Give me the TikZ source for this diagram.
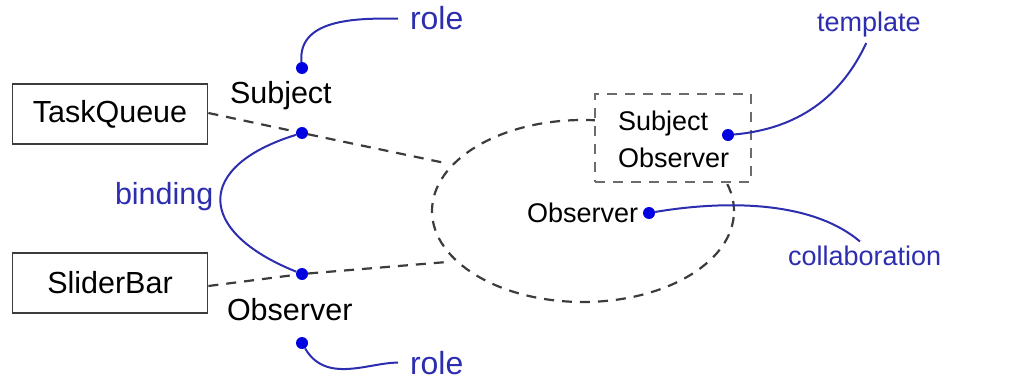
\documentclass[tikz,border=0pt]{standalone}
\usepackage{fontspec}
\setmainfont{Liberation Sans}
\usetikzlibrary{shapes.geometric}
\definecolor{lblue}{RGB}{45,45,175}
\definecolor{dblue}{RGB}{0,0,225}
\definecolor{dgray}{RGB}{60,60,60}
\begin{document}
\begin{tikzpicture}[x=1pt,y=1pt,
  txt/.style={font=\fontsize{27}{32}\selectfont, inner sep=0pt, outer sep=0pt, anchor=base west, text=black},
  bigtxt/.style={txt, font=\fontsize{30.5}{36}\selectfont},
  btxt/.style={txt, text=lblue},
  bigbtxt/.style={bigtxt, text=lblue},
  classbox/.style={draw=dgray, line width=1.8pt, minimum width=195pt, minimum height=60pt, inner sep=0pt, font=\fontsize{30.5}{36}\selectfont},
  dot/.style={circle, fill=dblue, inner sep=0pt, minimum size=12pt},
  dline/.style={draw=dgray, line width=2.2pt, dash pattern=on 10pt off 8pt},
  bline/.style={draw=lblue, line width=2pt}
]
\useasboundingbox (0,0) rectangle (1011,381);
% collaboration ellipse and template box
\node[ellipse, dline, minimum width=302pt, minimum height=182pt] (ell) at (583,170) {};
\node[draw=gray!85!black, fill=white, line width=2pt, dash pattern=on 10pt off 8pt, minimum width=156pt, minimum height=88pt] (tbox) at (673,243) {};
\node[txt] (ts) at (618,251) {Subject};
\node[txt] (to) at (618,214) {Observer};
% classes
\node[classbox] (tq) at (110,267) {TaskQueue};
\node[classbox] (sb) at (110,98) {SliderBar};
% role labels
\node[bigtxt] (subj) at (230,278) {Subject};
\node[bigtxt] (obs) at (227,61) {Observer};
\node[txt] (iobs) at (527,159) {Observer};
% dots
\node[dot] (sr) at (302,313) {};
\node[dot] (sp) at (302,248) {};
\node[dot] (op) at (302,107) {};
\node[dot] (orr) at (302,38) {};
\node[dot] (td) at (728,246) {};
\node[dot] (cd) at (649,168) {};
% blue labels
\node[bigbtxt, font=\fontsize{32}{38}\selectfont] (roleT) at (410,351) {role};
\node[bigbtxt, font=\fontsize{32}{38}\selectfont] (roleB) at (410,7) {role};
\node[bigbtxt] (bind) at (115,177) {binding};
\node[btxt] (tmpl) at (817,349) {template};
\node[btxt] (coll) at (788,116) {collaboration};
% dashed connectors
\coordinate (e1) at (445,218);
\coordinate (e2) at (447,119);
\draw[dline] ([yshift=1pt]tq.east) -- (sp);
\draw[dline] (sp) -- (e1);
\draw[dline] ([yshift=-3pt]sb.east) -- (op);
\draw[dline] (op) -- (e2);
% blue connectors
\draw[bline, shorten >=12pt] (sr) to[out=95,in=180] (roleT.west);
\draw[bline, shorten >=12pt] (orr) to[out=-60,in=180] (roleB.west);
\draw[bline] (sp) .. controls (195,215) and (195,150) .. (op);
\draw[bline, shorten >=6pt] (td) to[out=5,in=-115] (tmpl.south);
\draw[bline, shorten >=6pt] (cd) .. controls (720,180) and (810,182) .. (coll.north);
\end{tikzpicture}
\end{document}
